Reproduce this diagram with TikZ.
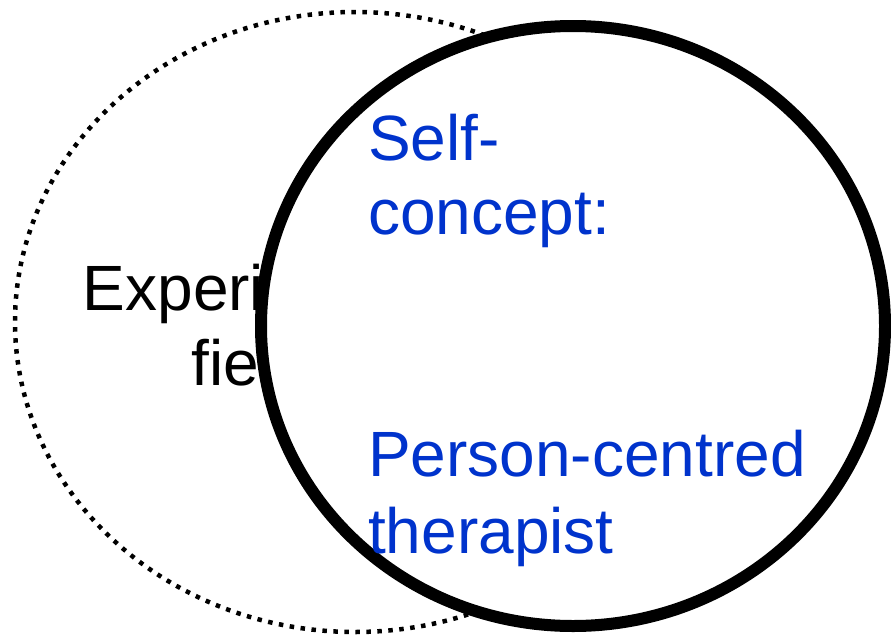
\documentclass[tikz,border=0pt]{standalone}
\usepackage{fontspec}
\setmainfont{Liberation Sans}
\definecolor{selfblue}{RGB}{0,51,204}
\begin{document}
\begin{tikzpicture}[x=1pt,y=-1pt,
  bigtext/.style={inner sep=0pt,font=\fontsize{64}{75}\selectfont},
  bluetext/.style={bigtext,text=selfblue,anchor=base west},
  fieldline/.style={line width=4.5pt,dash pattern=on 4.5pt off 6.5pt},
  selfline/.style={line width=12pt,fill=white}]
\useasboundingbox (0,0) rectangle (891,637);
% experiential field
\draw[fieldline] (355,322) ellipse [x radius=340, y radius=310];
\node[bigtext,anchor=base] (exp) at (250,310) {Experiential};
\node[bigtext,anchor=base] (fld) at (250,385) {field};
% self-concept circle
\draw[selfline] (573,326) ellipse [x radius=312, y radius=300];
\node[bluetext] (self) at (368,160) {Self-};
\node[bluetext] (concept) at (368,234) {concept:};
\node[bluetext] (person) at (368,476) {Person-centred};
\node[bluetext] (therapist) at (368,553) {therapist};
\end{tikzpicture}
\end{document}
